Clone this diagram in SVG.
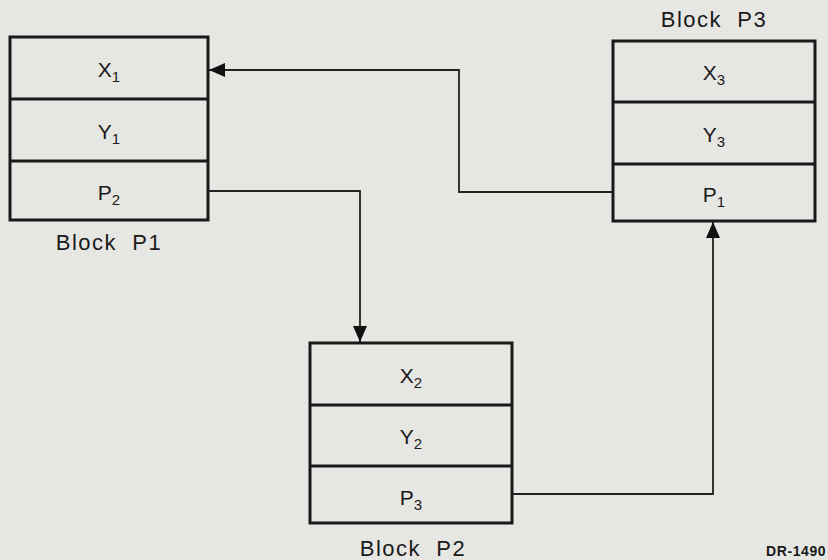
<svg xmlns="http://www.w3.org/2000/svg" width="828" height="560" viewBox="0 0 828 560">
<style>
.box{fill:none;stroke:#1a1a1a;stroke-width:3}
.div{stroke:#1a1a1a;stroke-width:3}
.con{fill:none;stroke:#222;stroke-width:1.8}
.t{font-family:"Liberation Sans",Arial,sans-serif;font-size:21px;fill:#1a1a1a;text-anchor:middle}
.s{font-size:15px}
.lbl{font-family:"Liberation Sans",Arial,sans-serif;font-size:22px;fill:#1a1a1a;text-anchor:middle;letter-spacing:1.5px;white-space:pre}
.dr{font-family:"Liberation Sans",Arial,sans-serif;font-size:14px;font-weight:bold;fill:#1a1a1a;letter-spacing:0.6px}
</style>
<defs>
<marker id="ah" viewBox="0 0 16 14" refX="16" refY="7" markerWidth="16" markerHeight="14" markerUnits="userSpaceOnUse" orient="auto">
<path d="M0,0 L16,7 L0,14 Z" fill="#111"/>
</marker>
</defs>
<rect width="828" height="560" fill="#e6e6e3"/>
<g id="blockP1">
<rect class="box" x="10" y="37" width="198" height="183"/>
<line class="div" x1="10" y1="99" x2="208" y2="99"/>
<line class="div" x1="10" y1="161" x2="208" y2="161"/>
<text class="t" x="109" y="77">X<tspan class="s" dy="5">1</tspan></text>
<text class="t" x="109" y="139">Y<tspan class="s" dy="5">1</tspan></text>
<text class="t" x="109" y="200">P<tspan class="s" dy="5">2</tspan></text>
<text class="lbl" x="109" y="250" xml:space="preserve">Block  P1</text>
</g>
<g id="blockP3">
<rect class="box" x="613" y="41" width="202" height="180"/>
<line class="div" x1="613" y1="102" x2="815" y2="102"/>
<line class="div" x1="613" y1="164" x2="815" y2="164"/>
<text class="t" x="714" y="80">X<tspan class="s" dy="5">3</tspan></text>
<text class="t" x="714" y="142">Y<tspan class="s" dy="5">3</tspan></text>
<text class="t" x="714" y="202">P<tspan class="s" dy="5">1</tspan></text>
<text class="lbl" x="714" y="27" xml:space="preserve">Block  P3</text>
</g>
<g id="blockP2">
<rect class="box" x="310" y="343" width="202" height="180"/>
<line class="div" x1="310" y1="405" x2="512" y2="405"/>
<line class="div" x1="310" y1="466" x2="512" y2="466"/>
<text class="t" x="411" y="383">X<tspan class="s" dy="5">2</tspan></text>
<text class="t" x="411" y="444">Y<tspan class="s" dy="5">2</tspan></text>
<text class="t" x="411" y="505">P<tspan class="s" dy="5">3</tspan></text>
<text class="lbl" x="413" y="556" xml:space="preserve">Block  P2</text>
</g>
<g id="connectors">
<polyline class="con" points="208,191 360,191 360,342" marker-end="url(#ah)"/>
<polyline class="con" points="613,192 459,192 459,70 209,70" marker-end="url(#ah)"/>
<polyline class="con" points="512,494 713,494 713,222" marker-end="url(#ah)"/>
</g>
<text class="dr" x="766" y="556">DR-1490</text>
</svg>
